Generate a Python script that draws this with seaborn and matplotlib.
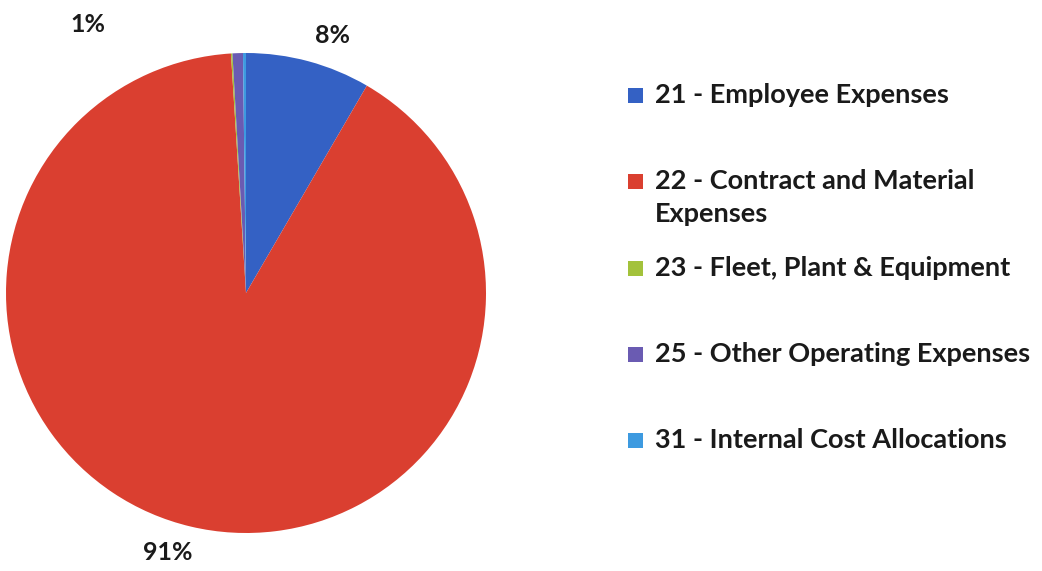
import matplotlib
matplotlib.use("Agg")
import matplotlib.pyplot as plt
from matplotlib.patches import Rectangle
import numpy as np
import seaborn as sns

# Expense categories and their share of the total (%)
categories = [
    "21 - Employee Expenses",
    "22 - Contract and Material\nExpenses",
    "23 - Fleet, Plant & Equipment",
    "25 - Other Operating Expenses",
    "31 - Internal Cost Allocations",
]
shares = [8.4, 90.6, 0.1, 0.7, 0.2]
colors = ["#3461c4", "#da3f30", "#a3c23b", "#6a5bb2", "#3d9ae0"]

sns.set_theme(style="white")
plt.rcParams["font.family"] = ["Lato", "DejaVu Sans"]
palette = sns.color_palette(colors)

W, H = 1042, 571
fig = plt.figure(figsize=(W / 100, H / 100), dpi=100)

# Square axes holding the pie; pie radius is 1 in data units
R_PX = 237
cx, cy = 246, H - 293
half = 300
ax = fig.add_axes([(cx - half) / W, (cy - half) / H, 2 * half / W, 2 * half / H])
lim = half / R_PX
ax.set_xlim(-lim, lim)
ax.set_ylim(-lim, lim)
ax.set_aspect("equal")
ax.axis("off")


def pct_label(p):
    return f"{p:.0f}%" if p >= 0.5 else ""


wedges, texts, autotexts = ax.pie(
    shares,
    colors=palette,
    startangle=90,
    counterclock=False,
    radius=1.0,
    autopct=pct_label,
    pctdistance=1.13,
    wedgeprops=dict(linewidth=0),
    textprops=dict(fontsize=18, fontweight="bold", color="#1a1a1a"),
)

# Outside labels sit slightly clockwise of each slice's mid angle
for t in autotexts:
    x, y = t.get_position()
    r = np.hypot(x, y)
    a = np.arctan2(y, x) - np.radians(3.5)
    t.set_position((r * np.cos(a), r * np.sin(a)))

# The label of the small slice is pushed to the left, away from the 8% label
x0, y0 = autotexts[3].get_position()
autotexts[3].set_position((x0 - 0.69, y0 - 0.01))

# Legend: square swatch plus bold label, one row per category
fs = 19.5
row0, step, line_gap = 103, 86.3, 33
for i, (lab, col) in enumerate(zip(categories, palette)):
    base = row0 + step * i
    fig.patches.append(
        Rectangle((628 / W, (H - base) / H), 15 / W, 15 / H,
                  transform=fig.transFigure, facecolor=col, edgecolor="none")
    )
    for k, line in enumerate(lab.split("\n")):
        fig.text(655 / W, (H - base - k * line_gap) / H, line, fontsize=fs,
                 fontweight="bold", color="#1a1a1a", va="baseline", ha="left")

fig.savefig("out.png", dpi=100, facecolor="white")
